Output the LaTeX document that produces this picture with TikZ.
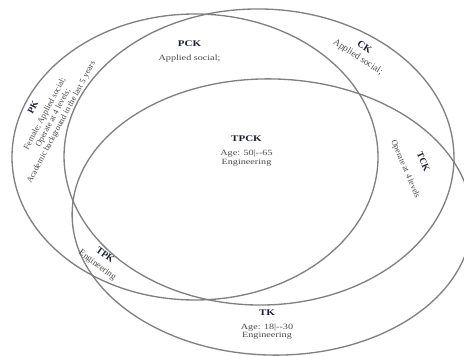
\documentclass[tikz,border=0pt]{standalone}
\usepackage{fontspec}
\setmainfont{Liberation Serif}
\definecolor{ringgray}{RGB}{128,128,128}
\definecolor{titlecol}{RGB}{30,32,48}
\definecolor{bodycol}{RGB}{72,72,72}
\newcommand\lbltitle[2][6.5]{{\fontsize{#1}{#1}\selectfont\bfseries\color{titlecol}#2}}
\begin{document}
\begin{tikzpicture}[x=0.59055pt, y=-0.75pt, xscale=1.27, transform shape,
  ring/.style={draw=ringgray, line width=1pt},
  lbl/.style={align=center, inner sep=0pt, text=bodycol, font=\fontsize{6}{6.5}\selectfont},
  unstretch/.style={xscale=0.7874}]
\useasboundingbox (0,0) rectangle (464,356);
\clip (0,0) rectangle (464,356);
% circles
\draw[ring] (195,157) ellipse [x radius=183, y radius=143];
\draw[ring, rotate around={-4:(259,157)}] (259,157) ellipse [x radius=195, y radius=148];
\draw[ring, rotate around={-4:(272,217)}] (272,217) ellipse [x radius=200, y radius=138];
% labels
\node[lbl, unstretch, rotate=62, font=\fontsize{6.3}{6.9}\selectfont] (pk) at (47.5,115) {\lbltitle[7]{PK}\\[2.8pt] Female; Applied social;\\ Operate at 4 levels;\\ Academic background in the last 5 years};
\node[lbl] (pck) at (189.5,51) {\lbltitle{PCK}\\[4pt] Applied social;};
\node[lbl, unstretch, rotate=-33, font=\fontsize{7}{7}\selectfont] (ck) at (361,52.5) {\lbltitle[7.5]{CK}\\[1.5pt] Applied social;};
\node[lbl] (tpck) at (246.5,151) {\lbltitle{TPCK}\\[4pt] Age: 50|-{}-65\\ Engineering};
\node[lbl, unstretch, rotate=-67, font=\fontsize{6.3}{6.5}\selectfont] (tck) at (414,165.5) {\lbltitle[7]{TCK}\\[7.5pt] Operate at 4 levels};
\node[lbl, unstretch, rotate=-37, font=\fontsize{6.8}{6.8}\selectfont] (tpk) at (101,260.5) {\lbltitle[7.3]{TPK}\\[2.3pt] Engineering};
\node[lbl] (tk) at (267,324.5) {\lbltitle{TK}\\[4pt] Age: 18|-{}-30\\ Engineering};
\end{tikzpicture}
\end{document}
